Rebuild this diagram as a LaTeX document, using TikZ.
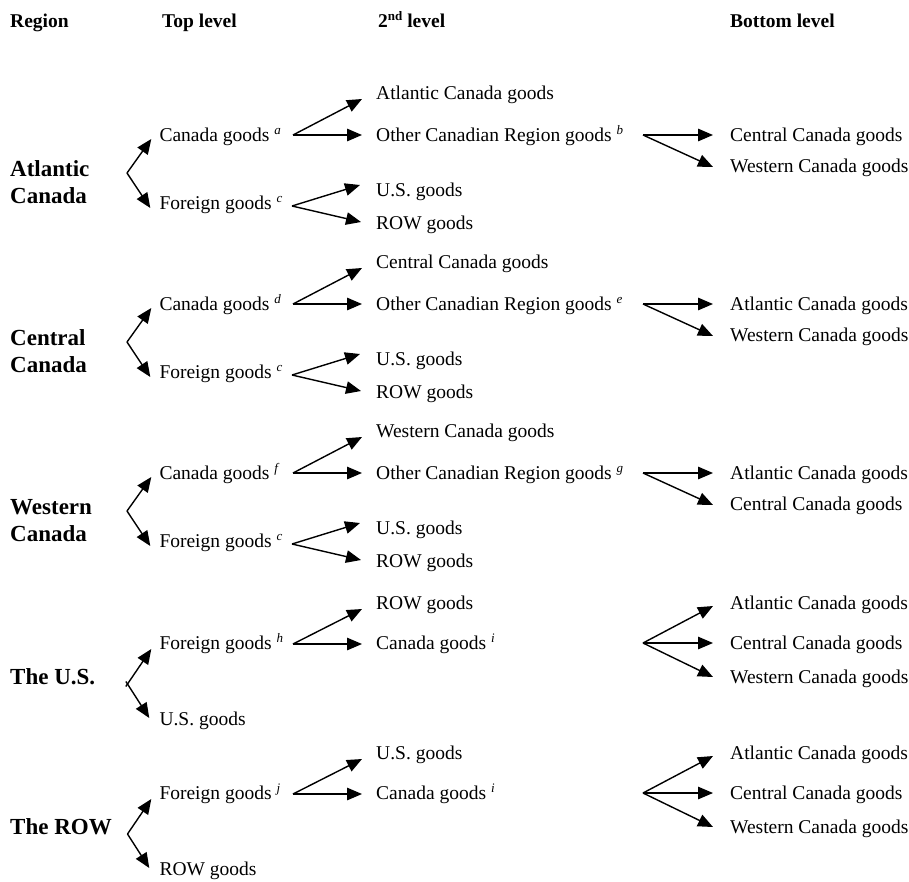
\documentclass[tikz,border=0pt]{standalone}
\usepackage{fontspec}
\setmainfont{Liberation Serif}
\usetikzlibrary{arrows.meta,calc}
\newcommand\supx[1]{\raisebox{7pt}{\fontsize{13}{13}\selectfont\itshape #1}}
\newcommand\supb[1]{\raisebox{7pt}{\fontsize{13}{13}\selectfont\bfseries #1}}
\newcommand\canblock[9]{%
 \node[reg] (L#2a) at (10,#1+33) {#3};
 \node[reg] (L#2b) at (10,#1+60) {#4};
 \node[body] (C#2) at (159.3,#1) {Canada goods \supx{#5}};
 \node[body] (F#2) at (159.3,#1+68) {Foreign goods \supx{c}};
 \node[body] (S#2a) at (376,#1-42) {#6 goods};
 \node[body] (S#2b) at (376,#1) {Other Canadian Region goods \supx{#7}};
 \node[body] (S#2c) at (376,#1+55) {U.S. goods};
 \node[body] (S#2d) at (376,#1+88) {ROW goods};
 \node[body] (B#2a) at (730,#1) {#8 Canada goods};
 \node[body] (B#2b) at (730,#1+31) {#9 Canada goods};
 \coordinate (v#2) at (127,#1+38);
 \coordinate (vc#2) at (293,#1);
 \coordinate (vf#2) at (292,#1+71);
 \coordinate (vb#2) at (643,#1);
 \draw[arr] (v#2) -- ($(C#2.west)+(-8,4)$);
 \draw[arr] (v#2) -- ($(F#2.west)+(-9,5)$);
 \draw[arr] (vc#2) -- ($(S#2a.west)+(-14,6)$);
 \draw[arr] (vc#2) -- ($(S#2b.west)+(-14,0)$);
 \draw[arr] (vf#2) -- ($(S#2c.west)+(-16,-5)$);
 \draw[arr] (vf#2) -- ($(S#2d.west)+(-15,-1)$);
 \draw[arr] (vb#2) -- ($(B#2a.west)+(-17,0)$);
 \draw[arr] (vb#2) -- ($(B#2b.west)+(-17,1)$);
}
\newcommand\forblock[7]{%
 \node[reg] (L#2) at (10,#1+33) {#3};
 \node[body] (F#2) at (159.3,#1) {Foreign goods \supx{#4}};
 \node[body] (H#2) at (159.3,#1+76) {#6 goods};
 \node[body] (S#2a) at (376,#1-40) {#5 goods};
 \node[body] (S#2b) at (376,#1) {Canada goods \supx{i}};
 \node[body] (B#2a) at (730,#1-40) {Atlantic Canada goods};
 \node[body] (B#2b) at (730,#1) {Central Canada goods};
 \node[body] (B#2c) at (730,#1+34) {Western Canada goods};
 \coordinate (v#2) at (127.5,#1+41);
 \coordinate (vc#2) at (293,#1+1);
 \coordinate (vb#2) at (643,#1);
 \draw[arr,#7] (v#2) -- ($(F#2.west)+(-8,6)$);
 \draw[arr,#7] (v#2) -- ($(H#2.west)+(-10,-1)$);
 \draw[arr] (vc#2) -- ($(S#2a.west)+(-14,6)$);
 \draw[arr] (vc#2) -- ($(S#2b.west)+(-14,1)$);
 \draw[arr] (vb#2) -- ($(B#2a.west)+(-17,3)$);
 \draw[arr] (vb#2) -- ($(B#2b.west)+(-17,0)$);
 \draw[arr] (vb#2) -- ($(B#2c.west)+(-17,0)$);
}
\begin{document}
\begin{tikzpicture}[x=1pt,y=-1pt,
  arr/.style={line width=1.4pt,-{Triangle[length=15pt,width=12.5pt]}},
  body/.style={anchor=west,inner sep=0pt,font=\fontsize{19.5}{22}\selectfont,text height=15pt,text depth=3pt},
  head/.style={body,font=\fontsize{19.5}{22}\selectfont\bfseries},
  reg/.style={anchor=west,inner sep=0pt,font=\fontsize{23}{26}\selectfont\bfseries,text height=17pt,text depth=1pt}]
\useasboundingbox (0,0) rectangle (909,881);
\node[head] (hR) at (10,21) {Region};
\node[head] (hT) at (162,21) {Top level};
\node[head] (hS) at (378,21) {2\supb{nd} level};
\node[head] (hB) at (730,21) {Bottom level};
\canblock{135}{1}{Atlantic}{Canada}{a}{Atlantic Canada}{b}{Central}{Western}
\canblock{304}{2}{Central}{Canada}{d}{Central Canada}{e}{Atlantic}{Western}
\canblock{473}{3}{Western}{Canada}{f}{Western Canada}{g}{Atlantic}{Central}
\forblock{643}{4}{The U.S.}{h}{ROW}{U.S.}{shorten <=-3pt}
\forblock{793}{5}{The ROW}{j}{U.S.}{ROW}{}
\end{tikzpicture}
\end{document}
